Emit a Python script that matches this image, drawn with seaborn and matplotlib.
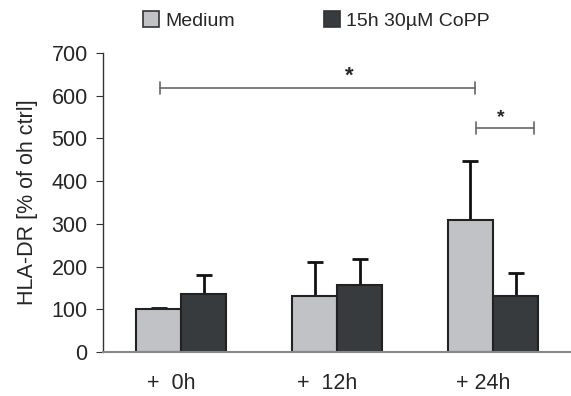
import numpy as np
import pandas as pd
import matplotlib
matplotlib.use("Agg")
import matplotlib.pyplot as plt
import matplotlib.transforms as mtransforms
import seaborn as sns
from matplotlib.patches import Patch

# values
timepoints = ["+  0h", "+  12h", "+ 24h"]
groups = ["Medium", "15h 30\u00b5M CoPP"]
medium = [100, 132, 310]
medium_err = [2, 79, 137]
copp = [136, 157, 132]
copp_err = [44, 61, 53]
colors = ["#c1c2c5", "#363b3f"]

df = pd.DataFrame({
    "time": timepoints * 2,
    "group": [groups[0]] * 3 + [groups[1]] * 3,
    "value": medium + copp,
})

sns.set_style("white")
plt.rcParams["font.family"] = ["Liberation Sans", "DejaVu Sans"]

fig = plt.figure(figsize=(5.71, 3.96), dpi=100)
ax = fig.add_axes([0.1804, 0.111, 0.8196, 0.755])

sns.barplot(data=df, x="time", y="value", hue="group", palette=colors,
            width=0.577, gap=0, edgecolor="#222222", linewidth=1.5,
            errorbar=None, legend=False, ax=ax, zorder=2)

# upper error bars only
x = np.arange(len(timepoints))
off = 0.577 / 4
for i, (vals, errs) in enumerate([(medium, medium_err), (copp, copp_err)]):
    xs = x - off if i == 0 else x + off
    ax.errorbar(xs, vals, yerr=[np.zeros(3), errs], fmt="none",
                ecolor="#111111", elinewidth=2, capsize=6, capthick=2, zorder=1)

ax.set_xlim(-0.5, 2.5)
ax.set_ylim(0, 700)
ax.set_yticks(range(0, 701, 100))
ax.set_xticks(x)
ax.set_xticklabels(timepoints)
ax.set_xticks([-0.5, 0.5, 1.5], minor=True)
ax.tick_params(axis="x", which="major", length=0, labelsize=15.5, pad=15)
ax.tick_params(axis="x", which="minor", length=6, color="#333333", direction="out")
ax.tick_params(axis="y", length=5, labelsize=15.5, pad=6, color="#333333",
               direction="out", left=True)
shift = mtransforms.ScaledTranslation(-10 / 100, 0, fig.dpi_scale_trans)
for lab in ax.get_xticklabels():
    lab.set_transform(lab.get_transform() + shift)
ax.set_xlabel("")
ax.set_ylabel("HLA-DR [% of oh ctrl]", fontsize=15.5, labelpad=10)

for s in ["top", "right"]:
    ax.spines[s].set_visible(False)
ax.spines["left"].set_color("#333333")
ax.spines["left"].set_linewidth(1.0)
ax.spines["bottom"].set_color("#888888")
ax.spines["bottom"].set_linewidth(1.5)

# significance brackets
def bracket(x0, x1, y, h=14):
    ax.plot([x0, x1], [y, y], color="#666666", lw=1.2, clip_on=False)
    for xx in (x0, x1):
        ax.plot([xx, xx], [y - h, y + h], color="#666666", lw=1.2, clip_on=False)

bracket(-0.135, 1.885, 619)
ax.text(1.08, 622, "*", ha="center", va="bottom", fontsize=16, fontweight="bold")
bracket(1.89, 2.26, 525)
ax.text(2.05, 530, "*", ha="center", va="bottom", fontsize=14, fontweight="bold")

handles = [Patch(facecolor=c, edgecolor="#333333", linewidth=1.2) for c in colors]
fig.legend(handles, groups, loc="center", bbox_to_anchor=(0.554, 0.948), ncol=2,
           frameon=False, fontsize=14, handlelength=0.82, handleheight=0.82,
           handletextpad=0.3, columnspacing=4.6)

fig.savefig("out.png", dpi=100)
